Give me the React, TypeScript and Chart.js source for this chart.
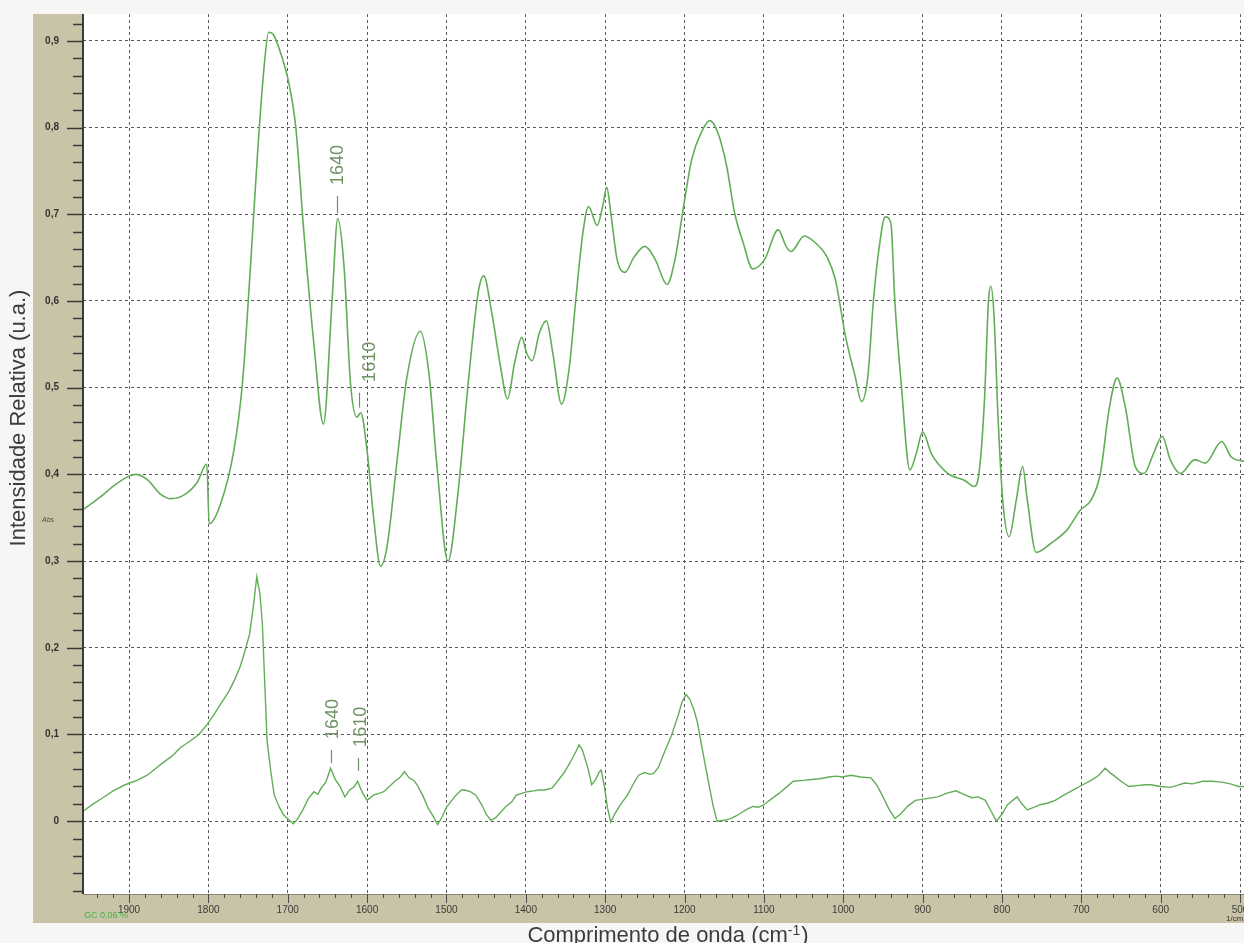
import React, { useEffect, useRef } from 'react';
import { Chart, registerables } from 'chart.js';

Chart.register(...registerables);

const CANVAS_W = 1244;
const CANVAS_H = 943;

// Upper spectrum (wavenumber in cm-1, absorbance)
const upperWavenumbers = [
  1957, 1936, 1919, 1900, 1892, 1877, 1860, 1847, 1831, 1814, 1802, 1799, 1785, 1768, 1757, 1747,
  1738, 1730, 1724, 1718, 1709, 1699, 1690, 1680, 1667, 1655, 1644, 1637, 1629, 1621, 1613, 1608,
  1600, 1592, 1583, 1575, 1562, 1550, 1533, 1522, 1512, 1498, 1486, 1472, 1460, 1453, 1443, 1432,
  1423, 1414, 1405, 1399, 1392, 1383, 1374, 1366, 1355, 1345, 1337, 1328, 1321, 1310, 1303, 1298,
  1293, 1285, 1275, 1264, 1250, 1237, 1222, 1212, 1201, 1191, 1178, 1168, 1158, 1147, 1137, 1126,
  1114, 1099, 1082, 1072, 1066, 1049, 1035, 1020, 1010, 1003, 998, 985, 977, 969, 962, 955, 947,
  940, 935, 927, 916, 908, 900, 889, 868, 847, 835, 829, 822, 817, 814, 810, 805, 799, 791, 782,
  774, 768, 757, 739, 718, 701, 688, 676, 665, 655, 644, 632, 621, 609, 598, 588, 575, 557, 544,
  523, 511, 495,
];
const upperAbsorbance = [
  0.360, 0.374, 0.387, 0.398, 0.400, 0.394, 0.377, 0.372, 0.376, 0.391, 0.412, 0.343, 0.365, 0.427, 0.506, 0.639,
  0.771, 0.868, 0.910, 0.907, 0.886, 0.853, 0.802, 0.683, 0.550, 0.458, 0.603, 0.695, 0.639, 0.506, 0.466, 0.471,
  0.427, 0.352, 0.294, 0.316, 0.418, 0.511, 0.565, 0.516, 0.410, 0.300, 0.374, 0.511, 0.610, 0.629, 0.587, 0.525,
  0.487, 0.529, 0.558, 0.540, 0.531, 0.563, 0.577, 0.540, 0.481, 0.525, 0.602, 0.679, 0.709, 0.687, 0.710, 0.731,
  0.702, 0.648, 0.633, 0.650, 0.663, 0.648, 0.619, 0.648, 0.710, 0.763, 0.796, 0.808, 0.794, 0.756, 0.702, 0.667,
  0.637, 0.648, 0.682, 0.663, 0.657, 0.675, 0.667, 0.650, 0.625, 0.590, 0.563, 0.513, 0.484, 0.513, 0.600, 0.660, 0.697,
  0.690, 0.600, 0.505, 0.405, 0.424, 0.449, 0.424, 0.401, 0.393, 0.386, 0.401, 0.486, 0.600, 0.617, 0.583, 0.467, 0.370, 0.328, 0.370,
  0.409, 0.370, 0.310, 0.320, 0.336, 0.359, 0.370, 0.401, 0.475, 0.511, 0.475, 0.409, 0.401, 0.424, 0.444, 0.417, 0.401, 0.417, 0.413,
  0.438, 0.420, 0.415,
];

// Lower spectrum (wavenumber in cm-1, absorbance)
const lowerWavenumbers = [
  1957, 1945, 1933, 1920, 1905, 1890, 1877, 1866, 1858, 1846, 1835, 1822, 1812, 1802, 1793, 1784,
  1774, 1767, 1760, 1754, 1748, 1743, 1739, 1735, 1732, 1729, 1726, 1721, 1717, 1710, 1705, 1698,
  1693, 1688, 1681, 1674, 1667, 1662, 1658, 1652, 1646, 1640, 1634, 1628, 1622, 1616, 1612, 1606,
  1600, 1592, 1585, 1579, 1572, 1565, 1559, 1553, 1547, 1541, 1537, 1530, 1523, 1517, 1511, 1505,
  1500, 1495, 1488, 1481, 1477, 1470, 1463, 1455, 1450, 1444, 1438, 1432, 1426, 1418, 1412, 1405,
  1398, 1390, 1384, 1376, 1367, 1360, 1351, 1344, 1337, 1333, 1329, 1322, 1317, 1312, 1308, 1305,
  1301, 1297, 1293, 1287, 1280, 1272, 1265, 1258, 1250, 1244, 1239, 1233, 1226, 1216, 1208, 1203,
  1198, 1193, 1188, 1184, 1177, 1170, 1164, 1159, 1150, 1142, 1135, 1128, 1121, 1114, 1107, 1100,
  1090, 1081, 1072, 1063, 1050, 1040, 1030, 1018, 1008, 1002, 990, 978, 965, 958, 951, 943, 935,
  928, 918, 909, 895, 881, 870, 858, 848, 838, 830, 821, 814, 807, 800, 793, 781, 775, 768, 760,
  752, 742, 733, 722, 710, 698, 686, 678, 670, 664, 658, 650, 640, 630, 620, 612, 600, 588, 580,
  570, 560, 547, 535, 523, 512, 502, 495,
];
const lowerAbsorbance = [
  0.012, 0.020, 0.027, 0.035, 0.042, 0.047, 0.053, 0.061, 0.067, 0.075, 0.085, 0.093, 0.100, 0.111, 0.123, 0.136,
  0.150, 0.163, 0.178, 0.196, 0.216, 0.250, 0.282, 0.262, 0.228, 0.160, 0.092, 0.055, 0.030, 0.015, 0.007, 0.001,
  -0.003, 0.002, 0.013, 0.026, 0.034, 0.031, 0.038, 0.045, 0.061, 0.048, 0.040, 0.028, 0.036, 0.040, 0.046, 0.033,
  0.024, 0.030, 0.032, 0.034, 0.040, 0.046, 0.050, 0.057, 0.050, 0.047, 0.042, 0.030, 0.015, 0.006, -0.004, 0.006,
  0.016, 0.022, 0.030, 0.036, 0.036, 0.034, 0.030, 0.018, 0.008, 0.001, 0.004, 0.010, 0.016, 0.022, 0.030, 0.032,
  0.034, 0.035, 0.036, 0.036, 0.038, 0.046, 0.057, 0.068, 0.080, 0.088, 0.083, 0.062, 0.042, 0.048, 0.056, 0.059,
  0.040, 0.015, -0.001, 0.010, 0.020, 0.030, 0.042, 0.053, 0.056, 0.054, 0.055, 0.062, 0.078, 0.100, 0.122, 0.138,
  0.146, 0.140, 0.128, 0.115, 0.080, 0.046, 0.018, 0.000, 0.001, 0.003, 0.006, 0.010, 0.014, 0.017, 0.016, 0.019,
  0.026, 0.032, 0.039, 0.046, 0.047, 0.048, 0.049, 0.051, 0.052, 0.051, 0.053, 0.051, 0.050, 0.042, 0.030, 0.015, 0.003,
  0.008, 0.018, 0.024, 0.026, 0.028, 0.032, 0.035, 0.031, 0.027, 0.028, 0.024, 0.012, 0.000, 0.008, 0.019, 0.028, 0.020, 0.013, 0.016,
  0.019, 0.021, 0.024, 0.030, 0.036, 0.042, 0.048, 0.053, 0.061, 0.056, 0.052, 0.046, 0.040, 0.041, 0.042, 0.042, 0.040, 0.039, 0.041,
  0.044, 0.043, 0.046, 0.046, 0.045, 0.043, 0.040, 0.040,
];

const xTickValues = [1900, 1800, 1700, 1600, 1500, 1400, 1300, 1200, 1100, 1000, 900, 800, 700, 600, 500];
const yTickValues = [0, 0.1, 0.2, 0.3, 0.4, 0.5, 0.6, 0.7, 0.8, 0.9];

// Band labels marked on each spectrum
const bandLabels = ['1640', '1610'];
const upperBandWavenumbers = [1638, 1610];
const lowerBandWavenumbers = [1646, 1612];

// Where each band marker sits: tick top/bottom (absorbance units) and text shift in px
const upperBandLayout = [
  { tickTop: 0.721, tickBottom: 0.701, dx: 1 },
  { tickTop: 0.494, tickBottom: 0.477, dx: 11 },
];
const lowerBandLayout = [
  { tickTop: 0.082, tickBottom: 0.067, dx: 2 },
  { tickTop: 0.073, tickBottom: 0.058, dx: 3 },
];

const LINE_GREEN = '#62ad57';
const LABEL_GREEN = '#6f9364';
const TAN = '#c9c3a8';
const PAGE_BG = '#f6f6f5';
const PANEL_LEFT = 33;
const BAND_BOTTOM = 923;
const FONT = "'Liberation Sans', Arial, Helvetica, sans-serif";

const fmtComma = (v: number) => (Math.abs(v) < 1e-9 ? '0' : v.toFixed(1).replace('.', ','));

const framePlugin = {
  id: 'spectrumFrame',
  beforeDraw(chart: any) {
    const { ctx, chartArea: a } = chart;
    ctx.save();
    ctx.fillStyle = PAGE_BG;
    ctx.fillRect(0, 0, chart.width, chart.height);
    ctx.fillStyle = '#ffffff';
    ctx.fillRect(a.left, a.top, a.right - a.left, a.bottom - a.top);
    ctx.fillStyle = TAN;
    ctx.fillRect(PANEL_LEFT, a.top, a.left - PANEL_LEFT, BAND_BOTTOM - a.top);
    ctx.fillRect(PANEL_LEFT, a.bottom, chart.width - PANEL_LEFT, BAND_BOTTOM - a.bottom);
    ctx.restore();
  },
  afterDraw(chart: any) {
    const { ctx, chartArea: a } = chart;
    const xs = chart.scales.x;
    const ys = chart.scales.y;
    ctx.save();

    // axis lines
    ctx.strokeStyle = '#3a3a3a';
    ctx.lineWidth = 2;
    ctx.beginPath();
    ctx.moveTo(a.left, a.top);
    ctx.lineTo(a.left, a.bottom);
    ctx.stroke();
    ctx.lineWidth = 1;
    ctx.strokeStyle = '#8a8676';
    ctx.beginPath();
    ctx.moveTo(a.left, a.bottom + 0.5);
    ctx.lineTo(a.right, a.bottom + 0.5);
    ctx.stroke();

    // y tick marks, every 0.02 with longer marks at each 0.1
    ctx.strokeStyle = '#3a3a3a';
    ctx.lineWidth = 1.5;
    for (let k = -4; k <= 46; k++) {
      const v = k * 0.02;
      if (v < ys.min || v > ys.max) continue;
      const y = Math.round(ys.getPixelForValue(v)) + 0.5;
      const len = k % 5 === 0 ? 16 : 10;
      ctx.beginPath();
      ctx.moveTo(a.left - len, y);
      ctx.lineTo(a.left, y);
      ctx.stroke();
    }

    // x tick marks, every 20 cm-1 with longer marks at each 100
    ctx.strokeStyle = '#4a4a4a';
    ctx.lineWidth = 1;
    for (let w = 500; w <= 1940; w += 20) {
      const x = Math.round(xs.getPixelForValue(w)) + 0.5;
      const len = w % 100 === 0 ? 9 : 4;
      ctx.beginPath();
      ctx.moveTo(x, a.bottom);
      ctx.lineTo(x, a.bottom + len);
      ctx.stroke();
    }

    // small texts on the frame
    ctx.fillStyle = '#4a4a4a';
    ctx.font = `italic 7px ${FONT}`;
    ctx.textAlign = 'left';
    ctx.textBaseline = 'middle';
    ctx.fillText('Abs', 42, 520);

    ctx.fillStyle = '#3fb543';
    ctx.font = `9px ${FONT}`;
    ctx.fillText('GC 0,06 %', 84, 916);

    ctx.fillStyle = '#333';
    ctx.font = `8px ${FONT}`;
    ctx.fillText('1/cm', 1226, 919);

    // band markers
    const drawBands = (wavenumbers: number[], layout: any[]) => {
      wavenumbers.forEach((w, i) => {
        const L = layout[i];
        const x = Math.round(xs.getPixelForValue(w)) + 0.5;
        const yTop = ys.getPixelForValue(L.tickTop);
        const yBot = ys.getPixelForValue(L.tickBottom);
        ctx.strokeStyle = LABEL_GREEN;
        ctx.lineWidth = 1.2;
        ctx.beginPath();
        ctx.moveTo(x, yTop);
        ctx.lineTo(x, yBot);
        ctx.stroke();
        ctx.save();
        ctx.translate(x + L.dx, yTop - 11);
        ctx.rotate(-Math.PI / 2);
        ctx.fillStyle = LABEL_GREEN;
        ctx.font = `18px ${FONT}`;
        ctx.textAlign = 'left';
        ctx.textBaseline = 'middle';
        ctx.fillText(bandLabels[i], 0, 0);
        ctx.restore();
      });
    };
    drawBands(upperBandWavenumbers, upperBandLayout);
    drawBands(lowerBandWavenumbers, lowerBandLayout);

    // axis titles
    ctx.fillStyle = '#3c3c3c';
    ctx.save();
    ctx.translate(19, 418);
    ctx.rotate(-Math.PI / 2);
    ctx.font = `22px ${FONT}`;
    ctx.textAlign = 'center';
    ctx.textBaseline = 'middle';
    ctx.fillText('Intensidade Relativa (u.a.)', 0, 0);
    ctx.restore();

    const mainPart = 'Comprimento de onda (cm';
    const supPart = '-1';
    const endPart = ')';
    ctx.font = `22px ${FONT}`;
    const w1 = ctx.measureText(mainPart).width;
    const w3 = ctx.measureText(endPart).width;
    ctx.font = `14px ${FONT}`;
    const w2 = ctx.measureText(supPart).width;
    const total = w1 + w2 + w3 + 1;
    let tx = 668 - total / 2;
    const ty = 936;
    ctx.textAlign = 'left';
    ctx.textBaseline = 'middle';
    ctx.font = `22px ${FONT}`;
    ctx.fillText(mainPart, tx, ty);
    tx += w1;
    ctx.font = `14px ${FONT}`;
    ctx.fillText(supPart, tx, ty - 5);
    tx += w2 + 1;
    ctx.font = `22px ${FONT}`;
    ctx.fillText(endPart, tx, ty);

    ctx.restore();
  },
};

export default function App() {
  const canvasRef = useRef<HTMLCanvasElement | null>(null);

  useEffect(() => {
    const canvas = canvasRef.current;
    if (!canvas) return;
    const toPoints = (xsArr: number[], ysArr: number[]) => xsArr.map((x, i) => ({ x, y: ysArr[i] }));

    const chart = new Chart(canvas, {
      type: 'line',
      data: {
        datasets: [
          {
            label: 'upper',
            data: toPoints(upperWavenumbers, upperAbsorbance),
            borderColor: LINE_GREEN,
            borderWidth: 1.6,
            pointRadius: 0,
            cubicInterpolationMode: 'monotone',
            fill: false,
          },
          {
            label: 'lower',
            data: toPoints(lowerWavenumbers, lowerAbsorbance),
            borderColor: LINE_GREEN,
            borderWidth: 1.4,
            pointRadius: 0,
            tension: 0,
            fill: false,
          },
        ],
      },
      options: {
        animation: false,
        responsive: false,
        devicePixelRatio: 1,
        layout: { padding: { left: 0, top: 14, right: 0, bottom: 0 } },
        plugins: { legend: { display: false }, tooltip: { enabled: false } },
        events: [],
        scales: {
          x: {
            type: 'linear',
            reverse: true,
            min: 495,
            max: 1958,
            afterBuildTicks: (scale: any) => {
              scale.ticks = xTickValues.map((v) => ({ value: v }));
            },
            afterFit: (scale: any) => {
              scale.height = 943 - 894;
              scale.paddingLeft = 0;
              scale.paddingRight = 0;
            },
            ticks: {
              autoSkip: false,
              maxRotation: 0,
              minRotation: 0,
              padding: 10,
              color: '#3a3a3a',
              font: { family: FONT, size: 10 },
              callback: (v: any) => String(v),
            },
            grid: { color: '#5a5a5a', lineWidth: 1, drawTicks: false },
            border: { display: false, dash: [3, 3] },
          },
          y: {
            type: 'linear',
            min: -0.084,
            max: 0.931,
            afterBuildTicks: (scale: any) => {
              scale.ticks = yTickValues.map((v) => ({ value: v }));
            },
            afterFit: (scale: any) => {
              scale.width = 83;
              scale.paddingTop = 0;
              scale.paddingBottom = 0;
            },
            ticks: {
              padding: 24,
              color: '#333',
              font: { family: FONT, size: 10, weight: 'bold' },
              callback: (v: any) => fmtComma(Number(v)),
            },
            grid: { color: '#5a5a5a', lineWidth: 1, drawTicks: false },
            border: { display: false, dash: [3, 3] },
          },
        },
      },
      plugins: [framePlugin],
    } as any);

    return () => chart.destroy();
  }, []);

  return (
    <div style={{ position: 'fixed', left: 0, top: 0, width: CANVAS_W, height: CANVAS_H, overflow: 'hidden' }}>
      <canvas ref={canvasRef} width={CANVAS_W} height={CANVAS_H} style={{ display: 'block' }} />
    </div>
  );
}
